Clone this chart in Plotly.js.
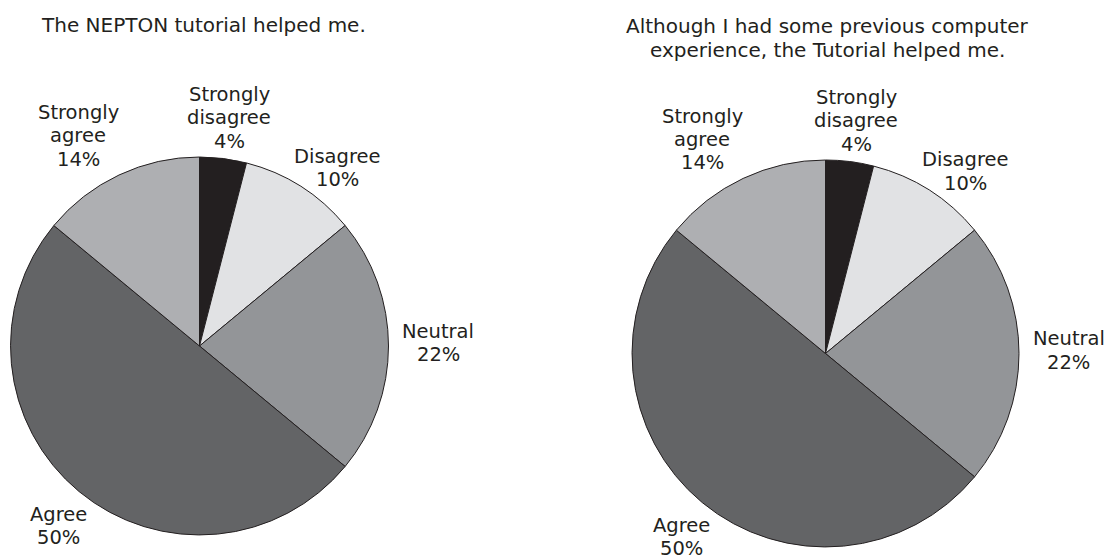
<!DOCTYPE html>
<html>
<head>
<meta charset="utf-8">
<script src="https://cdn.plot.ly/plotly-3.0.1.min.js"></script>
<style>
  html, body { margin: 0; padding: 0; background: #ffffff; }
  #chart { width: 1108px; height: 556px; }
</style>
</head>
<body>
<div id="chart"></div>
<script>
// Answer scale, in the order the slices run clockwise from 12 o'clock
const categories = ['Strongly disagree', 'Disagree', 'Neutral', 'Agree', 'Strongly agree'];
const categoryLines = [['Strongly', 'disagree'], ['Disagree'], ['Neutral'], ['Agree'], ['Strongly', 'agree']];

// Share of answers (%) for each statement
const tutorialHelped = [4, 10, 22, 50, 14];
const priorExperienceHelped = [4, 10, 22, 50, 14];

const questions = [
  ['The NEPTON tutorial helped me.'],
  ['Although I had some previous computer', 'experience, the Tutorial helped me.']
];

// ---- styling ----
const W = 1108, H = 556;
const sliceColors = ['#231f20', '#e1e2e4', '#939598', '#636466', '#aeafb2'];
const inkColor = '#231f20';
const fontFamily = '"DejaVu Sans", Verdana, sans-serif';
const labelSize = 19.5;
const titleSize = 20;
const lineGap = 23.4;               // px between stacked text lines
const labelGap = 8;                 // px between rim and label box
// small hand offsets (px) per category for the outside labels
const labelNudge = [[0, 2], [9, 8], [6, -3], [3, 10], [-20, 0]];

// pie placement in px: centre and radius
const pieFrames = [
  { cx: 199.5, cy: 346, r: 189 },
  { cx: 825.5, cy: 353.5, r: 193.5 }
];
const pieValues = [tutorialHelped, priorExperienceHelped];
// centre of the first title line, px
const titleFrames = [
  { x: 39, y: 25, xanchor: 'left' },
  { x: 827, y: 26.3, xanchor: 'center' }
];

const measureCtx = document.createElement('canvas').getContext('2d');
function textBox(lines) {
  measureCtx.font = labelSize + 'px ' + fontFamily;
  const w = Math.max(...lines.map(s => measureCtx.measureText(s).width));
  return { hw: w / 2, hh: (lines.length * lineGap) / 2 };
}

const annotations = [];
// one annotation per text line so the line spacing can be set freely
function addLines(lines, xPx, firstLineYPx, xanchor, size) {
  lines.forEach((s, k) => {
    annotations.push({
      xref: 'paper', yref: 'paper',
      x: xPx / W, y: 1 - (firstLineYPx + k * lineGap) / H,
      xanchor: xanchor, yanchor: 'middle',
      text: s, showarrow: false, align: 'center',
      font: { family: fontFamily, size: size, color: inkColor }
    });
  });
}

const traces = [];

pieFrames.forEach((f, p) => {
  const values = pieValues[p];
  traces.push({
    type: 'pie',
    labels: categories,
    values: values,
    sort: false,
    direction: 'clockwise',
    rotation: 0,
    textinfo: 'none',
    hoverinfo: 'label+percent',
    showlegend: false,
    marker: { colors: sliceColors, line: { color: inkColor, width: 1 } },
    domain: {
      x: [(f.cx - f.r) / W, (f.cx + f.r) / W],
      y: [1 - (f.cy + f.r) / H, 1 - (f.cy - f.r) / H]
    }
  });

  const total = values.reduce((a, b) => a + b, 0);
  let cum = 0;
  values.forEach((v, i) => {
    const theta = (cum + v / 2) / total * 2 * Math.PI;
    cum += v;
    const pct = Math.round(v / total * 100) + '%';
    const lines = categoryLines[i].concat([pct]);
    const box = textBox(lines);
    const s = Math.sin(theta), c = Math.cos(theta);
    const px = f.cx + (f.r + labelGap + box.hw) * s + labelNudge[i][0];
    const py = f.cy - (f.r + labelGap) * c - box.hh * c + labelNudge[i][1];
    addLines(lines, px, py - (lines.length - 1) * lineGap / 2, 'center', labelSize);
  });

  const t = titleFrames[p];
  addLines(questions[p], t.x, t.y, t.xanchor, titleSize);
});

const layout = {
  width: W, height: H,
  margin: { l: 0, r: 0, t: 0, b: 0 },
  paper_bgcolor: '#ffffff',
  plot_bgcolor: '#ffffff',
  showlegend: false,
  font: { family: fontFamily, color: inkColor },
  annotations: annotations
};

Plotly.newPlot('chart', traces, layout, { displayModeBar: false, staticPlot: true });
</script>
</body>
</html>
